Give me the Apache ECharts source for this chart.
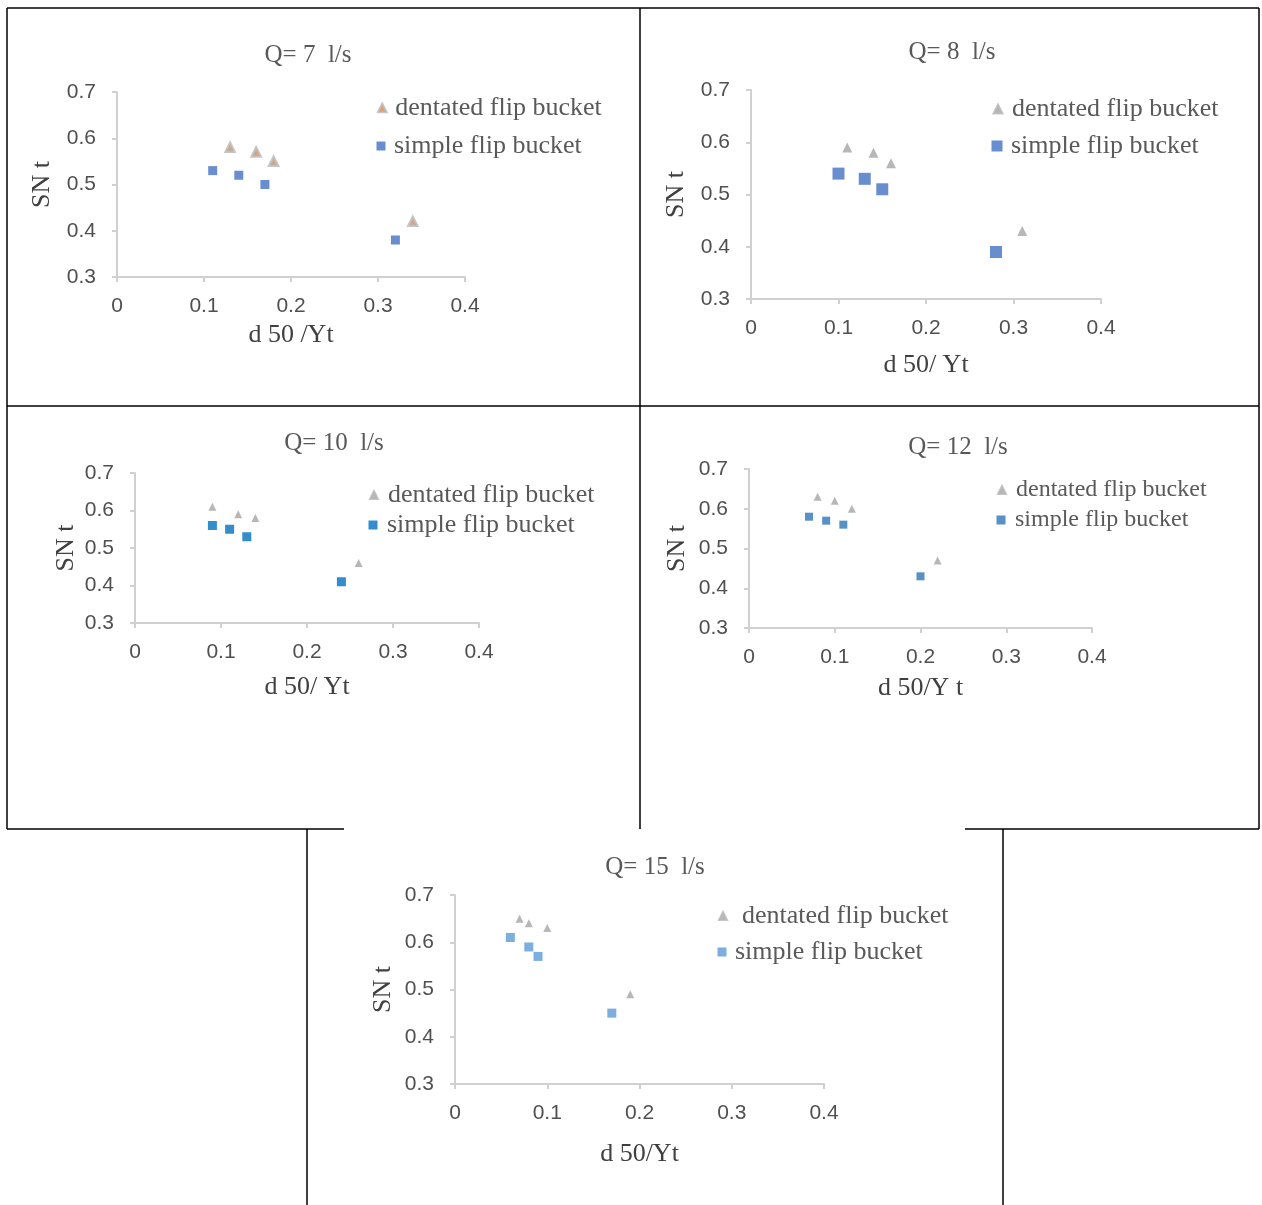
<!DOCTYPE html>
<html>
<head>
<meta charset="utf-8">
<script src="https://cdn.jsdelivr.net/npm/echarts@6/dist/echarts.min.js"></script>
<style>html,body{margin:0;padding:0;background:#fff}#c{width:1262px;height:1205px}</style>
</head>
<body>
<div id="c"></div>
<script>
// ---- data ----
const titles = ['Q= 7  l/s', 'Q= 8  l/s', 'Q= 10  l/s', 'Q= 12  l/s', 'Q= 15  l/s'];
const xNames = ['d 50 /Yt', 'd 50/ Yt', 'd 50/ Yt', 'd 50/Y t', 'd 50/Yt'];
const yName = 'SN t';
const legendNames = ['dentated flip bucket', 'simple flip bucket'];
const xTicks = [0, 0.1, 0.2, 0.3, 0.4];
const yTicks = [0.3, 0.4, 0.5, 0.6, 0.7];

const dentated7 = [[0.13, 0.58], [0.16, 0.57], [0.18, 0.55], [0.34, 0.42]];
const simple7   = [[0.11, 0.53], [0.14, 0.52], [0.17, 0.50], [0.32, 0.38]];
const dentated8 = [[0.11, 0.59], [0.14, 0.58], [0.16, 0.56], [0.31, 0.43]];
const simple8   = [[0.10, 0.54], [0.13, 0.53], [0.15, 0.51], [0.28, 0.39]];
const dentated10 = [[0.09, 0.61], [0.12, 0.59], [0.14, 0.58], [0.26, 0.46]];
const simple10   = [[0.09, 0.56], [0.11, 0.55], [0.13, 0.53], [0.24, 0.41]];
const dentated12 = [[0.08, 0.63], [0.10, 0.62], [0.12, 0.60], [0.22, 0.47]];
const simple12   = [[0.07, 0.58], [0.09, 0.57], [0.11, 0.56], [0.20, 0.43]];
const dentated15 = [[0.07, 0.65], [0.08, 0.64], [0.10, 0.63], [0.19, 0.49]];
const simple15   = [[0.06, 0.61], [0.08, 0.59], [0.09, 0.57], [0.17, 0.45]];

const dentatedSets = [dentated7, dentated8, dentated10, dentated12, dentated15];
const simpleSets = [simple7, simple8, simple10, simple12, simple15];

// ---- layout / style ----
// leg: icon centre x, centre y, text start x
const panels = [
  {grid:{left:117, top:92, width:348, height:185}, title:[308,55], xGap:45, yGap:62,
   simpleColor:'#4472c4', sSize:9, tSize:8, orangeTri:true,
   leg:[{cx:381, cy:108, tx:394}, {cx:381, cy:146, tx:394}], legFont:26, legIcon:[8,9]},
  {grid:{left:751, top:90, width:350, height:209}, title:[952,52], xGap:53, yGap:62,
   simpleColor:'#4472c4', sSize:12, tSize:10,
   leg:[{cx:997, cy:109, tx:1011}, {cx:997, cy:146, tx:1011}], legFont:26, legIcon:[9,11]},
  {grid:{left:135, top:473, width:344, height:150}, title:[334,443], xGap:51, yGap:56,
   simpleColor:'#0070c0', sSize:9, tSize:8,
   leg:[{cx:373, cy:495, tx:387}, {cx:373, cy:525, tx:387}], legFont:26, legIcon:[8,9]},
  {grid:{left:749, top:469, width:343, height:159}, title:[958,447], xGap:47, yGap:59,
   simpleColor:'#2e75b6', sSize:8, tSize:8,
   leg:[{cx:1001, cy:490, tx:1015}, {cx:1001, cy:520, tx:1015}], legFont:24, legIcon:[8,9]},
  {grid:{left:455, top:895, width:369, height:189}, title:[655,867], xGap:57, yGap:59,
   simpleColor:'#5b9bd5', sSize:9, tSize:8,
   leg:[{cx:722, cy:916, tx:741}, {cx:722, cy:952, tx:735}], legFont:26, legIcon:[8,9]}
];

const axisColor = '#d0d0d0';
const serif = 'Liberation Serif';
const sans = 'Liberation Sans';

const option = {
  backgroundColor:'#fff',
  animation:false,
  title:[], grid:[], xAxis:[], yAxis:[], series:[], legend:[], graphic:[]
};

const fmt = v => (Math.abs(v) < 1e-9 ? '0' : (Math.round(v*10)/10).toFixed(1));

panels.forEach((p, i) => {
  option.title.push({
    text: titles[i], left: p.title[0], top: p.title[1] - 15, textAlign:'center', padding:0,
    textStyle:{fontFamily:serif, fontSize:25, fontWeight:'normal', color:'#595959', lineHeight:30}
  });
  option.grid.push(Object.assign({containLabel:false}, p.grid));
  option.xAxis.push({
    type:'value', gridIndex:i, min:xTicks[0], max:xTicks[xTicks.length-1], interval:0.1,
    name:xNames[i], nameLocation:'middle', nameGap:p.xGap,
    nameTextStyle:{fontFamily:serif, fontSize:26, color:'#404040'},
    axisLine:{show:true, lineStyle:{color:axisColor, width:2}},
    axisTick:{show:true, length:5, lineStyle:{color:axisColor, width:2}},
    splitLine:{show:false},
    axisLabel:{fontFamily:sans, fontSize:21, color:'#505050', margin:19, formatter:fmt}
  });
  option.yAxis.push({
    type:'value', gridIndex:i, min:yTicks[0], max:yTicks[yTicks.length-1], interval:0.1,
    name:yName, nameLocation:'middle', nameGap:p.yGap, nameRotate:90,
    nameTextStyle:{fontFamily:serif, fontSize:26, color:'#404040'},
    axisLine:{show:true, lineStyle:{color:axisColor, width:2}},
    axisTick:{show:true, length:5, lineStyle:{color:axisColor, width:2}},
    splitLine:{show:false},
    axisLabel:{fontFamily:sans, fontSize:21, color:'#505050', margin:21, formatter:fmt}
  });
  const triStyle = p.orangeTri
    ? {color:'#ed7d31', borderColor:'#b8b8b8', borderWidth:3}
    : {color:'#a5a5a5'};
  option.series.push({
    type:'scatter', name:legendNames[0], xAxisIndex:i, yAxisIndex:i,
    symbol:'triangle', symbolSize:p.tSize, itemStyle:triStyle, data:dentatedSets[i]
  });
  option.series.push({
    type:'scatter', name:legendNames[1], xAxisIndex:i, yAxisIndex:i,
    symbol:'rect', symbolSize:p.sSize, itemStyle:{color:p.simpleColor}, data:simpleSets[i]
  });
  [0,1].forEach(k => {
    const L = p.leg[k];
    const sz = p.legIcon[k];
    const legTri = p.orangeTri ? {color:'#ed7d31', borderColor:'#b8b8b8', borderWidth:2.5} : {color:'#a5a5a5'};
    option.legend.push({
      left:L.cx - sz/2, top:L.cy - 15, padding:0, orient:'vertical', selectedMode:false,
      itemWidth:sz, itemHeight:sz,
      data:[{name:legendNames[k], icon: k===0 ? 'triangle' : 'rect',
             itemStyle: k===0 ? legTri : {color:p.simpleColor}}],
      textStyle:{fontFamily:serif, fontSize:p.legFont, color:'#595959', lineHeight:30,
                 padding:[0,0,0, Math.max(0, L.tx - (L.cx + sz/2) - 5)]}
    });
  });
});

// table borders
const lines = [
  [7,8,1259,8],[7,8,7,829],[1259,8,1259,829],[640,8,640,829],[7,406,1259,406],
  [7,829,344,829],[965,829,1259,829],[307,829,307,1205],[1003,829,1003,1205]
];
lines.forEach(l => option.graphic.push({
  type:'line', shape:{x1:l[0], y1:l[1], x2:l[2], y2:l[3]},
  style:{stroke:'#000', lineWidth:1.5}, silent:true
}));

const chart = echarts.init(document.getElementById('c'), null, {renderer:'canvas'});
chart.setOption(option);
</script>
</body>
</html>
